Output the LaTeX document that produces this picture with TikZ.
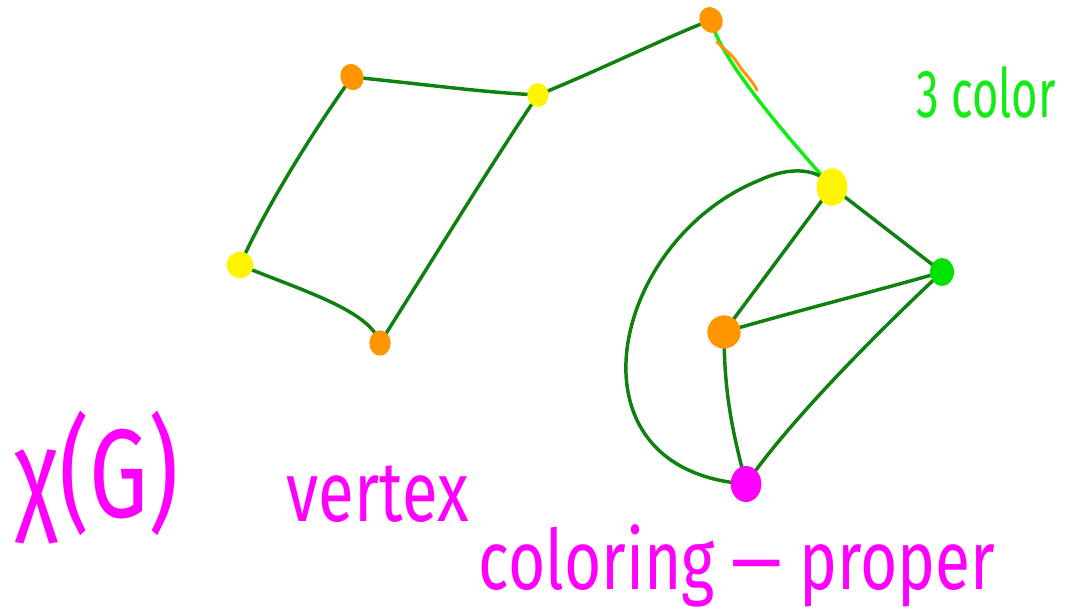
\documentclass[tikz,border=0pt]{standalone}
\usepackage{fontspec}
\setmainfont{Fira Sans}
\usetikzlibrary{shapes.geometric,backgrounds}
\definecolor{edgegreen}{RGB}{16,128,16}
\definecolor{brightgreen}{RGB}{20,235,20}
\definecolor{vorange}{RGB}{255,150,0}
\definecolor{vyellow}{RGB}{255,245,0}
\definecolor{vmagenta}{RGB}{255,0,255}
\definecolor{vgreen}{RGB}{0,225,0}
\tikzset{
  vtx/.style={ellipse, minimum width=17pt, minimum height=20pt, inner sep=0pt, draw=none},
  ed/.style={draw=edgegreen, line width=2.6pt, line cap=round},
  lbl/.style={text=vmagenta, inner sep=0pt, transform shape},
}
\begin{document}
\begin{tikzpicture}[x=0.75pt,y=-0.75pt]
\useasboundingbox (0,0) rectangle (1067,614);
% vertices
\node[vtx, fill=vorange, rotate=20] (A) at (352,77) {};
\node[vtx, fill=vyellow, minimum width=16pt, minimum height=18pt] (B) at (538,95) {};
\node[vtx, fill=vorange, rotate=25] (C) at (711,20) {};
\node[vtx, fill=vyellow, minimum width=20pt, minimum height=20pt] (D) at (240,265) {};
\node[vtx, fill=vorange, minimum width=16pt, minimum height=19pt] (E) at (380,343) {};
\node[vtx, fill=vyellow, minimum width=23pt, minimum height=28pt] (F) at (832,187) {};
\node[vtx, fill=vgreen, minimum width=18pt, minimum height=21pt] (G) at (942,272) {};
\node[vtx, fill=vorange, minimum width=25pt, minimum height=25pt] (H) at (724,332) {};
\node[vtx, fill=vmagenta, minimum width=23pt, minimum height=27pt] (I) at (746,484) {};
\begin{pgfonlayer}{background}
\draw[ed] (A.center) .. controls (440,86) and (480,92) .. (B.center);
\draw[ed] (B.center) .. controls (600,70) and (660,40) .. (C.center);
\draw[ed] (A.center) .. controls (300,150) and (260,220) .. (D.center);
\draw[ed] (D.center) .. controls (300,290) and (370,310) .. (E.center);
\draw[ed] (E.center) .. controls (420,280) and (500,150) .. (B.center);
\draw[draw=brightgreen, line width=2.6pt, line cap=round] (C.center) .. controls (720,60) and (790,140) .. (F.center);
\draw[ed] (F.center) -- (G.center);
\draw[ed] (F.center) -- (H.center);
\draw[ed] (H.center) .. controls (800,310) and (880,290) .. (G.center);
\draw[ed] (H.center) .. controls (724,400) and (735,440) .. (I.center);
\draw[ed] (G.center) .. controls (880,330) and (790,420) .. (I.center);
\draw[ed] (F.center) .. controls (820,168) and (790,166) .. (760,180)
  .. controls (610,240) and (560,470) .. (I.center);
\end{pgfonlayer}
% orange stroke beside C-F
\draw[draw=vorange, line width=2.2pt, line cap=round] (717,42) .. controls (725,50) and (733,55) .. (738,64) .. controls (743,72) and (752,80) .. (757,90);
% labels
\node[text=brightgreen, inner sep=0pt, transform shape, font=\fontsize{34}{34}\selectfont, yscale=1.5] (t3) at (986,92) {3 color};
\node[lbl, font=\fontsize{70}{70}\selectfont, yscale=1.35] (chi) at (97,478) {χ(G)};
\node[lbl, font=\fontsize{49}{49}\selectfont, yscale=1.3] (vt) at (378,494) {vertex};
\node[lbl, font=\fontsize{48}{48}\selectfont, yscale=1.3] (col) at (737,566) {coloring — proper};
\end{tikzpicture}
\end{document}
